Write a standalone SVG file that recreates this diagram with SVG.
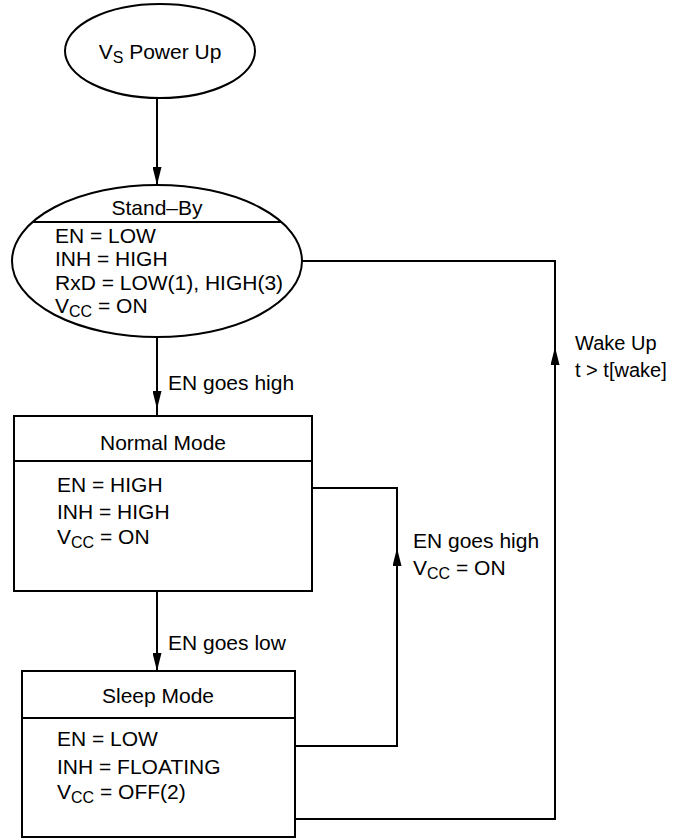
<svg xmlns="http://www.w3.org/2000/svg" width="673" height="840" viewBox="0 0 673 840">
<defs>
<style>
.shape{fill:#fff;stroke:#000;stroke-width:2}
.ln{fill:none;stroke:#000;stroke-width:2}
text{font-family:"Liberation Sans",Arial,sans-serif;font-size:21px;fill:#000}
.c{text-anchor:middle}
.s{font-size:20px}
</style>
<marker id="arr" viewBox="0 0 18 9" refX="18" refY="4.5" markerUnits="userSpaceOnUse" markerWidth="18" markerHeight="9" orient="auto">
<path d="M0,0 L18,4.5 L0,9 z" fill="#000"/>
</marker>
</defs>
<g id="connectors">
<path class="ln" d="M157,99 V185" marker-end="url(#arr)"/>
<path class="ln" d="M157,337 V409" marker-end="url(#arr)"/>
<path class="ln" d="M157,409 V416"/>
<path class="ln" d="M157,591 V671" marker-end="url(#arr)"/>
<path class="ln" d="M295,746 H397 V488 H312"/>
<path class="ln" d="M397,600 V548" marker-end="url(#arr)"/>
<path class="ln" d="M295,819 H555 V261 H302"/>
<path class="ln" d="M555,400 V347" marker-end="url(#arr)"/>
<text x="168" y="390">EN goes high</text>
<text x="168" y="650">EN goes low</text>
<text x="413" y="548">EN goes high</text>
<text x="413" y="575">V<tspan font-size="16" dy="4">CC</tspan><tspan dy="-4"> = ON</tspan></text>
<text class="s" x="575" y="350">Wake Up</text>
<text class="s" x="575" y="377">t &gt; t[wake]</text>
</g>
<g id="power-up">
<ellipse class="shape" cx="160" cy="51" rx="95" ry="47"/>
<text class="c" x="160" y="59">V<tspan font-size="16" dy="4">S</tspan><tspan dy="-4"> Power Up</tspan></text>
</g>
<g id="stand-by">
<ellipse class="shape" cx="157" cy="261" rx="145" ry="76"/>
<line class="ln" x1="33" y1="222" x2="281" y2="222"/>
<text class="c" x="157" y="215">Stand–By</text>
<text x="55" y="243">EN = LOW</text>
<text x="55" y="266">INH = HIGH</text>
<text x="55" y="290">RxD = LOW(1), HIGH(3)</text>
<text x="55" y="313">V<tspan font-size="16" dy="4">CC</tspan><tspan dy="-4"> = ON</tspan></text>
</g>
<g id="normal-mode">
<rect class="shape" x="14" y="416" width="298" height="175"/>
<line class="ln" x1="14" y1="461" x2="312" y2="461"/>
<text class="c" x="163" y="450">Normal Mode</text>
<text x="57" y="492">EN = HIGH</text>
<text x="57" y="519">INH = HIGH</text>
<text x="57" y="544">V<tspan font-size="16" dy="4">CC</tspan><tspan dy="-4"> = ON</tspan></text>
</g>
<g id="sleep-mode">
<rect class="shape" x="22" y="671" width="273" height="166"/>
<line class="ln" x1="22" y1="718" x2="295" y2="718"/>
<text class="c" x="158" y="703">Sleep Mode</text>
<text x="57" y="746">EN = LOW</text>
<text x="57" y="774">INH = FLOATING</text>
<text x="57" y="799">V<tspan font-size="16" dy="4">CC</tspan><tspan dy="-4"> = OFF(2)</tspan></text>
</g>
</svg>
